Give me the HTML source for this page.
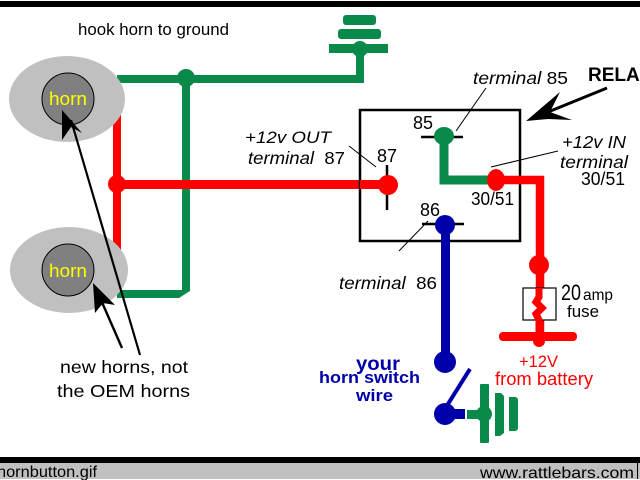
<!DOCTYPE html>
<html>
<head>
<meta charset="utf-8">
<style>
html,body{margin:0;padding:0;background:#fff;width:640px;height:480px;overflow:hidden}
svg{display:block}
text{font-family:"Liberation Sans",sans-serif;fill:#000}
.i{font-style:italic}
</style>
</head>
<body>
<svg width="640" height="480" viewBox="0 0 640 480" xmlns="http://www.w3.org/2000/svg">
<rect width="640" height="480" fill="#fff"/>
<rect x="0" y="1" width="640" height="6" fill="#000"/>
<rect x="0" y="457" width="640" height="6" fill="#000"/>
<rect x="0" y="463" width="640" height="16" fill="#c0c0c0"/>
<rect x="637" y="463" width="1" height="16" fill="#000"/>
<text x="-3" y="477" font-size="16" textLength="100" lengthAdjust="spacingAndGlyphs">hornbutton.gif</text>
<text x="480" y="478" font-size="16" textLength="154" lengthAdjust="spacingAndGlyphs">www.rattlebars.com</text>

<text x="78" y="35" font-size="16.5" textLength="151" lengthAdjust="spacingAndGlyphs">hook horn to ground</text>

<!-- red wire left -->
<rect x="113" y="112" width="8" height="140" fill="#f00"/>
<!-- green wires left -->
<path d="M117 79H360V50" fill="none" stroke="#0a8a4a" stroke-width="8"/>
<polygon points="182,78 190,78 190,291 179,298 117,298 117,290 182,290" fill="#0a8a4a"/>
<circle cx="186" cy="78" r="9" fill="#0a8a4a"/>

<ellipse cx="67" cy="99" rx="58" ry="43" fill="#c0c0c0"/>
<ellipse cx="69" cy="270" rx="59" ry="43" fill="#c0c0c0"/>
<circle cx="68" cy="99" r="26" fill="#808080" stroke="#000" stroke-width="1"/>
<circle cx="68" cy="270" r="26" fill="#808080" stroke="#000" stroke-width="1"/>
<text x="49" y="105" font-size="18" style="fill:#ff0" textLength="38" lengthAdjust="spacingAndGlyphs">horn</text>
<text x="49" y="277" font-size="18" style="fill:#ff0" textLength="38" lengthAdjust="spacingAndGlyphs">horn</text>

<!-- red main -->
<rect x="113" y="180" width="275" height="9" fill="#f00"/>
<circle cx="117" cy="184" r="9" fill="#f00"/>

<!-- ground top -->
<rect x="343" y="15" width="33" height="10" rx="3" fill="#0a8a4a"/>
<rect x="338" y="29" width="43" height="10" rx="3" fill="#0a8a4a"/>
<rect x="329" y="44" width="59" height="9" fill="#0a8a4a"/>
<circle cx="360" cy="49" r="8" fill="#0a8a4a"/>

<!-- relay box -->
<rect x="360" y="110" width="160" height="131" fill="none" stroke="#000" stroke-width="2.5"/>
<rect x="360" y="180" width="28" height="9" fill="#f00"/>

<!-- pins -->
<path d="M421 137H463M387 165V210M422 224H464" stroke="#000" stroke-width="2.5" fill="none"/>
<path d="M444 136V180H496" fill="none" stroke="#0a8a4a" stroke-width="9"/>
<ellipse cx="444" cy="136" rx="10" ry="9" fill="#0a8a4a"/>
<circle cx="388" cy="185" r="10" fill="#f00"/>
<path d="M496 180H540V335" fill="none" stroke="#f00" stroke-width="8.5"/>
<ellipse cx="496" cy="180" rx="9" ry="11" fill="#f00"/>
<rect x="499" y="332" width="78" height="9" rx="4" fill="#f00"/>
<circle cx="539" cy="341" r="6" fill="#f00"/>
<circle cx="539" cy="265" r="10" fill="#f00"/>
<rect x="523" y="288" width="33" height="32" fill="#fff" stroke="#000" stroke-width="1.2"/>
<path d="M539 288V297L536 302L542 308L536 314L539 320V332" fill="none" stroke="#f00" stroke-width="7"/>

<!-- blue -->
<rect x="441" y="224" width="9" height="138" fill="#00a"/>
<circle cx="445" cy="225" r="10" fill="#00a"/>
<circle cx="445" cy="362" r="11" fill="#00a"/>
<path d="M448 404L470 369" stroke="#00a" stroke-width="4" fill="none"/>
<circle cx="445" cy="414" r="11" fill="#00a"/>
<rect x="445" y="409" width="20" height="10" fill="#00a"/>

<!-- ground bottom -->
<rect x="467" y="410" width="20" height="9" fill="#0a8a4a"/>
<circle cx="484" cy="414" r="8" fill="#0a8a4a"/>
<rect x="480" y="384" width="9" height="59" rx="1" fill="#0a8a4a"/>
<path d="M495 393H501L504 396V433L500 436H495Z" fill="#0a8a4a"/>
<path d="M509 397H516L518 399V429L516 431H509Z" fill="#0a8a4a"/>

<!-- arrows -->
<path d="M140 355L71 120" stroke="#000" stroke-width="2.2" fill="none"/>
<polygon points="62,110 82,133 71,127 62,140" fill="#000"/>
<path d="M122 348L101 300" stroke="#000" stroke-width="2.4" fill="none"/>
<polygon points="93,283 115,305 103,303 95,313" fill="#000"/>
<path d="M607 88L548 112" stroke="#000" stroke-width="3" fill="none"/>
<polygon points="526,121 560,92 550,112 572,120 548,119" fill="#000"/>

<!-- leader lines -->
<path d="M486 88L456 131M349 146L376 167M558 151L491 167M428 221L399 251" stroke="#000" stroke-width="1" fill="none"/>

<!-- labels -->
<text x="473" y="84" font-size="17.5" textLength="95" lengthAdjust="spacingAndGlyphs"><tspan class="i">terminal</tspan> 85</text>
<text x="588" y="81" font-size="19" font-weight="bold">RELA<tspan dx="4">Y</tspan></text>
<text x="245" y="143" font-size="17" class="i" textLength="86" lengthAdjust="spacingAndGlyphs">+12v OUT</text>
<text x="248" y="164" font-size="17.5" textLength="97" lengthAdjust="spacingAndGlyphs"><tspan class="i">terminal</tspan>&#160; 87</text>
<text x="413" y="129" font-size="18" textLength="20" lengthAdjust="spacingAndGlyphs">85</text>
<text x="377" y="162" font-size="18" textLength="20" lengthAdjust="spacingAndGlyphs">87</text>
<text x="420" y="216" font-size="18" textLength="20" lengthAdjust="spacingAndGlyphs">86</text>
<text x="471" y="205" font-size="18" textLength="43" lengthAdjust="spacingAndGlyphs">30/51</text>
<text x="562" y="148" font-size="17.5" class="i" textLength="64" lengthAdjust="spacingAndGlyphs">+12v IN</text>
<text x="560" y="168" font-size="17.5" class="i" textLength="68" lengthAdjust="spacingAndGlyphs">terminal</text>
<text x="581" y="185" font-size="18" textLength="44" lengthAdjust="spacingAndGlyphs">30/51</text>
<text x="339" y="289" font-size="17.5" textLength="98" lengthAdjust="spacingAndGlyphs"><tspan class="i">terminal</tspan>&#160; 86</text>
<text x="561" y="300" font-size="22" textLength="20" lengthAdjust="spacingAndGlyphs">20</text>
<text x="583" y="300" font-size="16" textLength="30" lengthAdjust="spacingAndGlyphs">amp</text>
<text x="567" y="317" font-size="17" textLength="32" lengthAdjust="spacingAndGlyphs">fuse</text>
<text x="519" y="367" font-size="17" style="fill:#f00" textLength="39" lengthAdjust="spacingAndGlyphs">+12V</text>
<text x="495" y="385" font-size="18" style="fill:#f00" textLength="98" lengthAdjust="spacingAndGlyphs">from battery</text>
<text x="356" y="370" font-size="19" font-weight="bold" style="fill:#00a" textLength="44" lengthAdjust="spacingAndGlyphs">your</text>
<text x="319" y="383" font-size="17" font-weight="bold" style="fill:#00a" textLength="101" lengthAdjust="spacingAndGlyphs">horn switch</text>
<text x="356" y="401" font-size="17" font-weight="bold" style="fill:#00a" textLength="37" lengthAdjust="spacingAndGlyphs">wire</text>
<text x="60" y="373" font-size="17.5" textLength="128" lengthAdjust="spacingAndGlyphs">new horns, not</text>
<text x="57" y="397" font-size="17.5" textLength="133" lengthAdjust="spacingAndGlyphs">the OEM horns</text>
</svg>
</body>
</html>
